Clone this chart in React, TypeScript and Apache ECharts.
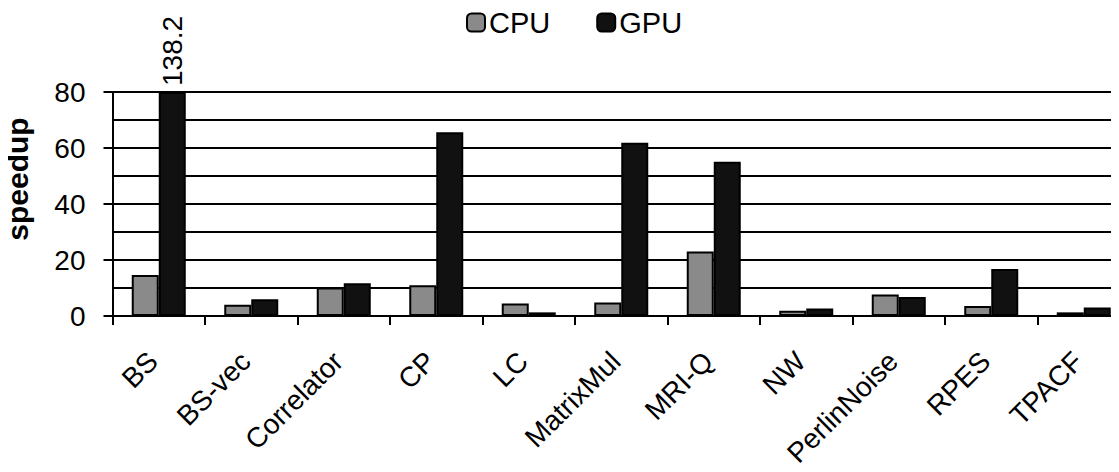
import React, { useEffect, useRef } from "react";
import * as echarts from "echarts";

const categories = ["BS", "BS-vec", "Correlator", "CP", "LC", "MatrixMul", "MRI-Q", "NW", "PerlinNoise", "RPES", "TPACF"];
const cpuValues = [14.6, 4.0, 10.2, 11.0, 4.5, 4.8, 23.0, 1.9, 7.7, 3.6, 1.3];
const gpuValues = [138.2, 6.0, 11.7, 65.6, 1.3, 61.9, 55.1, 2.7, 6.8, 16.8, 3.0];
const yMax = 80;
const yTicks = [0, 20, 40, 60, 80];

const FONT = "Liberation Sans, Arial, sans-serif";

export default function App() {
  const ref = useRef<HTMLDivElement>(null);
  useEffect(() => {
    if (!ref.current) return;
    const chart = echarts.init(ref.current, null, { renderer: "svg" });
    const gpuData = gpuValues.map((v) =>
      v > yMax
        ? {
            value: yMax,
            label: {
              show: true,
              formatter: String(v),
              position: "top",
              rotate: 90,
              align: "left",
              verticalAlign: "middle",
              distance: 6,
              fontSize: 28,
              color: "#000",
              fontFamily: FONT,
            },
          }
        : v
    );
    chart.setOption({
      animation: false,
      textStyle: { fontFamily: FONT, color: "#000" },
      legend: {
        top: 3,
        left: 461,
        itemWidth: 18,
        itemHeight: 18,
        itemGap: 46,
        textStyle: { fontSize: 29, color: "#000", fontFamily: FONT, padding: [0, 0, 0, -1] },
        data: ["CPU", "GPU"],
      },
      grid: {
        left: 112.5,
        right: -11,
        top: 92,
        bottom: 156,
        containLabel: false,
        outerBoundsMode: "none",
      },
      xAxis: {
        type: "category",
        data: categories,
        axisLine: { show: true, lineStyle: { color: "#000", width: 2 } },
        axisTick: { show: true, length: 9, lineStyle: { color: "#000", width: 2 } },
        axisLabel: {
          rotate: 45,
          interval: 0,
          margin: 35,
          fontSize: 28,
          color: "#000",
          fontFamily: FONT,
          padding: [0, 8, 0, 0],
        },
      },
      yAxis: {
        type: "value",
        min: 0,
        max: yMax,
        interval: 20,
        name: "speedup",
        nameLocation: "middle",
        nameGap: 80,
        nameTextStyle: {
          fontSize: 30,
          fontWeight: "bold",
          color: "#000",
          fontFamily: FONT,
          padding: [0, 0, 0, 50],
        },
        axisLine: { show: true, lineStyle: { color: "#000", width: 2 } },
        axisTick: { show: true, length: 9, lineStyle: { color: "#000", width: 2 } },
        axisLabel: {
          margin: 27,
          fontSize: 28,
          color: "#000",
          fontFamily: FONT,
          formatter: (v: number) => (yTicks.includes(v) ? String(v) : ""),
        },
        splitLine: { show: true, lineStyle: { color: "#000", width: 2 } },
        minorSplitLine: { show: true, lineStyle: { color: "#000", width: 2 } },
        minorTick: { show: false, splitNumber: 2 },
      },
      series: [
        {
          name: "CPU",
          type: "bar",
          data: cpuValues,
          barWidth: 27,
          barGap: "0%",
          itemStyle: { color: "#8a8a8a", borderColor: "#000", borderWidth: 2 },
        },
        {
          name: "GPU",
          type: "bar",
          data: gpuData,
          barWidth: 27,
          barGap: "0%",
          itemStyle: { color: "#111111", borderColor: "#000", borderWidth: 2 },
        },
      ],
    });
    return () => chart.dispose();
  }, []);
  return <div ref={ref} style={{ width: 1119, height: 472, margin: -8 }} />;
}
